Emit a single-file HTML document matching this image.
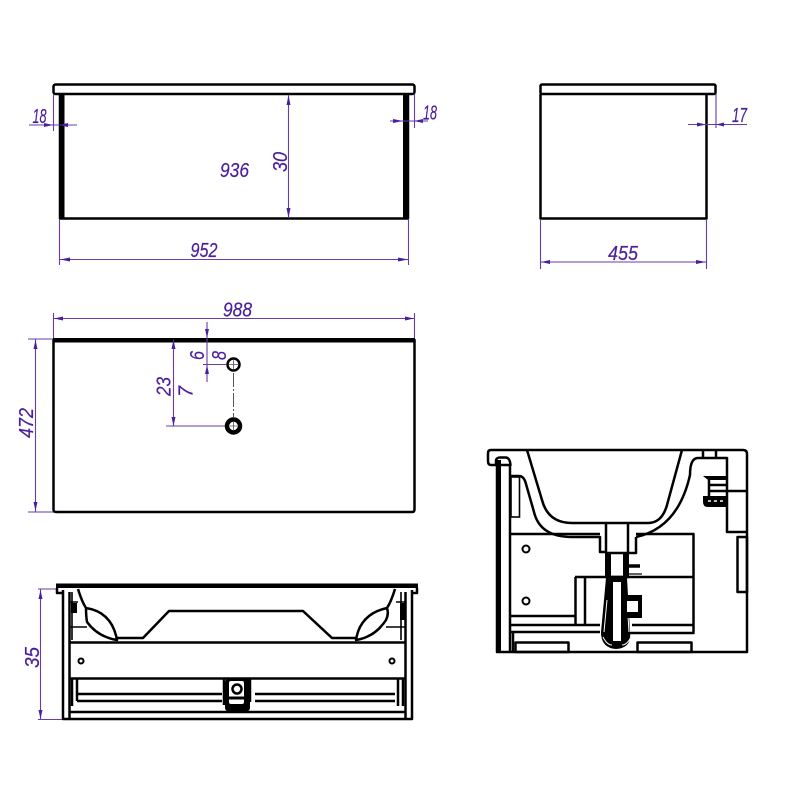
<!DOCTYPE html>
<html><head><meta charset="utf-8"><style>
html,body{margin:0;padding:0;background:#fff}
svg{display:block}
text{font-family:"Liberation Sans",sans-serif;font-style:italic;font-size:20px;fill:#4a1f9c;stroke:#4a1f9c;stroke-width:.2}
.k{fill:none;stroke:#000;stroke-width:2.500;stroke-linejoin:round}
.t{fill:none;stroke:#000;stroke-width:1.600}
.d{fill:none;stroke:#6a3aa8;stroke-width:1.100}
.a{fill:#4a1f9c;stroke:none}
</style></head><body>
<svg width="800" height="800" viewBox="0 0 800 800" xmlns="http://www.w3.org/2000/svg">
<rect width="800" height="800" fill="#fff"/>

<!-- View 1 -->
<rect class="k" x="53.500" y="84.500" width="361" height="9.500" rx="2"/>
<path class="k" d="M60 94V218.500H408V94"/>
<rect x="59" y="94" width="5.500" height="125" fill="#000"/>
<rect x="403" y="94" width="5.500" height="125" fill="#000"/>
<path class="d" d="M53.500 94V131M29 125H77M414.500 94V128M390 121H428M288.500 95V218M59.500 220V265M408.500 220V265M59.500 259.500H408.500"/>
<polygon class="a" points="53,125 44,123 44,127"/><polygon class="a" points="59,125 68,123 68,127"/>
<polygon class="a" points="403,121 393,119 393,123"/><polygon class="a" points="414,121 423,119 423,123"/>
<polygon class="a" points="288.500,95 286.500,105 290.500,105"/><polygon class="a" points="288.500,218 286.500,208 290.500,208"/>
<polygon class="a" points="60,259.500 70,257.500 70,261.500"/><polygon class="a" points="408,259.500 398,257.500 398,261.500"/>
<text x="32.500" y="123" textLength="14" lengthAdjust="spacingAndGlyphs">18</text>
<text x="423" y="119.500" textLength="14" lengthAdjust="spacingAndGlyphs">18</text>
<text x="220" y="177" textLength="29" lengthAdjust="spacingAndGlyphs">936</text>
<text x="190.500" y="257" textLength="27" lengthAdjust="spacingAndGlyphs">952</text>
<text transform="translate(287 172) rotate(-90)" textLength="20" lengthAdjust="spacingAndGlyphs">30</text>

<!-- View 2 -->
<rect class="k" x="540.500" y="84.500" width="175" height="9.500" rx="1.500"/>
<path class="k" d="M540.500 94V218.500H706.500V94"/>
<path class="d" d="M540.500 220V269M706.500 220V269M540.500 262H706.500M716 94V128M688 124.500H747"/>
<polygon class="a" points="541,262 550,260 550,264"/><polygon class="a" points="706,262 696,260 696,264"/>
<polygon class="a" points="706,124.500 697,122.500 697,126.500"/><polygon class="a" points="716,124.500 724,122.500 724,126.500"/>
<text x="608" y="260" textLength="30" lengthAdjust="spacingAndGlyphs">455</text>
<text x="732" y="122" textLength="15" lengthAdjust="spacingAndGlyphs">17</text>

<!-- View 3 -->
<rect x="53" y="338" width="362" height="4.500" fill="#000"/>
<path class="k" d="M53.500 339V509.500Q53.500 512 56 512H412Q414.500 512 414.500 509.500V339"/>
<path class="d" d="M53.500 313V338M414.500 313V338M53.500 318.500H414.500M28 339H53M28 512H53M35.500 339V512M173.500 340V426M166 426H226M207 322V382M203 364.500H226"/>
<path d="M233.500 373V417" stroke="#555" stroke-width="1" stroke-dasharray="14 2 2 2"/>
<polygon class="a" points="54,318.500 63,316.500 63,320.500"/><polygon class="a" points="414,318.500 405,316.500 405,320.500"/>
<polygon class="a" points="35.500,340 33.500,349 37.500,349"/><polygon class="a" points="35.500,511 33.500,502 37.500,502"/>
<polygon class="a" points="173.500,340 171.500,349 175.500,349"/><polygon class="a" points="173.500,426 171.500,417 175.500,417"/>
<polygon class="a" points="207,338 205,329 209,329"/><polygon class="a" points="207,365 205,374 209,374"/>
<circle cx="233.500" cy="364.500" r="6" fill="#fff" stroke="#000" stroke-width="2.500"/>
<circle cx="233.500" cy="426" r="6.500" fill="#fff" stroke="#000" stroke-width="4.500"/>
<path d="M229 364.500H238M233.500 360V369M230 426H237M233.500 422V430" stroke="#555" stroke-width=".8"/>
<text x="223" y="316.500" textLength="29" lengthAdjust="spacingAndGlyphs">988</text>
<text transform="translate(33 438) rotate(-90)" textLength="30" lengthAdjust="spacingAndGlyphs">472</text>
<text transform="translate(170.500 396) rotate(-90)" textLength="19" lengthAdjust="spacingAndGlyphs">23</text>
<text transform="translate(192.500 397) rotate(-90)" textLength="11" lengthAdjust="spacingAndGlyphs">7</text>
<text transform="translate(204 360) rotate(-90)" textLength="9" lengthAdjust="spacingAndGlyphs">6</text>
<text transform="translate(226 360) rotate(-90)" textLength="9" lengthAdjust="spacingAndGlyphs">8</text>

<!-- View 4 -->
<rect x="56" y="583.500" width="362" height="4.500" fill="#000"/>
<path class="d" d="M38 589H58M38 719.500H63M40.500 589V719.500"/>
<polygon class="a" points="40.500,590 38.500,599 42.500,599"/><polygon class="a" points="40.500,719 38.500,710 42.500,710"/>
<text transform="translate(39 668) rotate(-90)" textLength="21" lengthAdjust="spacingAndGlyphs">35</text>
<path class="k" d="M57 588V593H62M417 588V593H412"/>
<path class="k" d="M63 590V719H412V590M69.500 592V719M405.500 592V719"/>
<path class="k" d="M70 642.500H405M70 678.500H405M70 712H405"/>
<path class="k" d="M78 589Q82 602 86 608Q112 612 117 640Q98 637 87 622Q86 616 86 608"/>
<path class="k" d="M395 589Q391 602 387 608Q360 614 356 640Q375 637 386 620Q389 614 387 608"/>
<path class="k" d="M117 638H143L169 611H303L332 638H356"/>
<path class="t" d="M70 627H87M405 627H386M70 602H78M405 602H396M72 592V640M401 592V640"/>
<rect x="71" y="603" width="6" height="10" fill="#000"/>
<rect x="400" y="603" width="6" height="17" fill="#000"/>
<circle cx="81" cy="661" r="2.500" fill="#fff" stroke="#000" stroke-width="2"/>
<circle cx="392" cy="661" r="2.500" fill="#fff" stroke="#000" stroke-width="2"/>
<path class="k" d="M77 694H222M77 701H222M255 694H395M255 701H395M72 679V706M77 679V701M224 679V705M250 679V702M398 679V706M403 679V706"/>
<rect x="225" y="679" width="25" height="32" rx="3" fill="#000"/>
<rect x="229" y="681" width="15" height="23" rx="2" fill="#fff"/>
<circle cx="237" cy="689" r="4.500" fill="#fff" stroke="#000" stroke-width="2.500"/>
<path d="M229 698H246" stroke="#000" stroke-width="3"/>

<!-- View 5 -->
<path class="k" d="M527 450H743Q747 450 747 454V652H497V465H491Q488 465 488 461V453Q488 450 491 450H527"/>
<rect x="496" y="460" width="5" height="193" fill="#000"/>
<path class="k" d="M496 464V460Q497 457.500 500 457.500H506Q510 458 510.500 465H496M510 465V652"/>
<rect class="t" x="511" y="477" width="8.500" height="40"/>
<path class="k" d="M527 450L542 500Q548 523 572 523H648Q662 523 667 505L682 450"/>
<path class="k" d="M511 476H519Q524 476 526 484L534 512Q540 537 572 537H600V552H606"/>
<path class="k" d="M636 537Q678 528 690 475Q690 458 698 458H727V532H747M727 491H747M703 450V458M716 450V458"/>
<rect class="k" x="737.500" y="537" width="9.500" height="55"/>
<path class="k" d="M510 534H600M606 523V553M628 523V553M636 537V553H627"/>
<path class="k" d="M636 534H693.500V633H628M575 577H694M510 616H575M510 625H600M510 632H600M632 625H694M513 632V652"/>
<path class="k" d="M575.500 577V625M585 577V625"/>
<rect class="k" x="515.500" y="642.500" width="53" height="9.500"/>
<rect class="k" x="637.500" y="642.500" width="54" height="9.500"/>
<circle cx="526" cy="549" r="3.500" fill="#fff" stroke="#000" stroke-width="2"/>
<circle cx="526" cy="601" r="3.500" fill="#fff" stroke="#000" stroke-width="2"/>
<!-- bracket -->
<path d="M703 476H727V480H708Z" fill="#000"/>
<path class="k" d="M709 480V497M709 485H726M709 491H726"/>
<path d="M703 496H727V507H708Q703 507 703 502Z" fill="#000"/>
<path d="M708 501H724" stroke="#fff" stroke-width="1.500" stroke-dasharray="3 3"/>
<!-- trap -->
<path d="M605 553H611V577H605ZM623 553H629V577H623Z" fill="#000"/>
<path d="M606 578H627L630 632Q632 648 616 649Q601 648 601 632Z" fill="#000"/>
<rect x="613" y="582" width="8" height="59" fill="#fff"/>
<path d="M607 600L604 632M627 600L629 632" stroke="#fff" stroke-width="1"/>
<path d="M603 637Q607 645 612 645M631 637Q627 645 622 645" stroke="#fff" stroke-width="1" fill="none"/>
<path class="k" d="M605 553H629M605 577H629"/>
<path d="M627 566H640" stroke="#000" stroke-width="3.500"/>
<path d="M627 574H642M627 577H642" stroke="#000" stroke-width="1.200"/>
<rect x="626" y="595" width="16" height="23" fill="#000"/>
<rect x="627" y="601" width="11" height="11" fill="#fff"/>
</svg>
</body></html>
